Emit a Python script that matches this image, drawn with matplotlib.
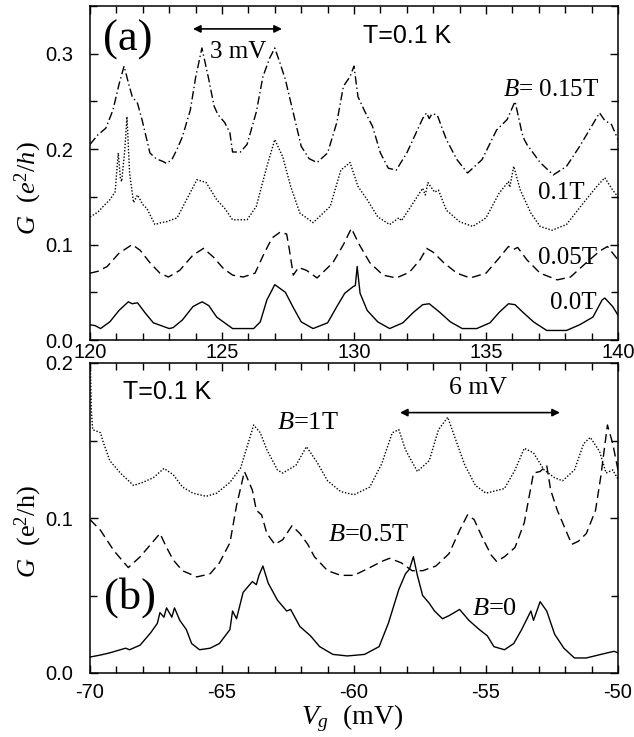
import matplotlib
matplotlib.use("Agg")
import matplotlib.pyplot as plt
from matplotlib.ticker import MultipleLocator, FormatStrFormatter

plt.rcParams['axes.unicode_minus'] = False
plt.rcParams['mathtext.fontset'] = 'custom'
plt.rcParams['mathtext.rm'] = 'Liberation Serif'
plt.rcParams['mathtext.it'] = 'Liberation Serif:italic'
plt.rcParams['mathtext.bf'] = 'Liberation Serif:bold'

SANS = 'Liberation Sans'
SERIF = 'Liberation Serif'

# ---------------- panel (a): T = 0.1 K, Vg = 120..140 mV ----------------
vg_a_015 = [120.0, 120.3, 120.6, 120.87, 121.1, 121.29, 121.45, 121.6, 121.8, 121.97, 122.27, 122.5,
            122.77, 122.9, 123.1, 123.3, 123.5, 123.8, 124.0, 124.24, 124.5, 124.7, 124.85, 125.1,
            125.3, 125.4, 125.7, 125.95, 126.3, 126.55, 126.8, 127.0, 127.2, 127.4, 127.7, 128.0,
            128.3, 128.6, 129.0, 129.35, 129.6, 129.85, 130.0, 130.15, 130.4, 130.7, 131.0, 131.3,
            131.6, 132.0, 132.4, 132.6, 132.75, 132.85, 132.95, 133.15, 133.5, 133.9, 134.3, 134.85,
            135.4, 135.8, 136.1, 136.3, 136.36, 136.45, 136.55, 137.05, 137.55, 138.05, 138.55, 139.0,
            139.3, 139.5, 139.75, 140.0]
g_a_015 = [0.205, 0.215, 0.222, 0.241, 0.268, 0.287, 0.270, 0.255, 0.248, 0.231, 0.196, 0.190,
           0.187, 0.185, 0.189, 0.200, 0.213, 0.241, 0.275, 0.306, 0.273, 0.245, 0.236, 0.228,
           0.217, 0.197, 0.197, 0.205, 0.239, 0.276, 0.295, 0.306, 0.290, 0.273, 0.238, 0.203,
           0.190, 0.186, 0.196, 0.228, 0.266, 0.276, 0.287, 0.255, 0.240, 0.224, 0.196, 0.180,
           0.178, 0.196, 0.220, 0.232, 0.238, 0.232, 0.237, 0.236, 0.210, 0.189, 0.175, 0.189,
           0.220, 0.231, 0.250, 0.225, 0.217, 0.210, 0.205, 0.186, 0.173, 0.182, 0.203, 0.224,
           0.238, 0.230, 0.226, 0.210]

vg_a_010 = [120.0, 120.3, 120.5, 120.75, 120.95, 121.07, 121.15, 121.2, 121.32, 121.4, 121.5, 121.65,
            121.8, 122.0, 122.15, 122.46, 122.7, 122.9, 123.3, 123.6, 124.05, 124.4, 124.8, 125.1,
            125.4, 125.95, 126.3, 126.7, 127.0, 127.3, 127.6, 127.95, 128.45, 129.1, 129.5, 129.85,
            130.15, 130.5, 130.9, 131.35, 131.7, 131.8, 132.25, 132.6, 132.7, 132.8, 133.05, 133.2,
            133.5, 134.0, 134.5, 135.0, 135.5, 135.85, 135.9, 136.05, 136.3, 136.7, 137.05, 137.5,
            138.05, 138.7, 139.2, 139.5, 139.8, 140.0]
g_a_010 = [0.129, 0.134, 0.140, 0.147, 0.155, 0.196, 0.170, 0.166, 0.200, 0.234, 0.175, 0.144,
           0.152, 0.142, 0.138, 0.121, 0.123, 0.124, 0.128, 0.144, 0.168, 0.165, 0.147, 0.138,
           0.126, 0.126, 0.140, 0.182, 0.210, 0.192, 0.161, 0.133, 0.123, 0.140, 0.178, 0.186,
           0.161, 0.147, 0.129, 0.121, 0.128, 0.125, 0.144, 0.159, 0.152, 0.165, 0.155, 0.157,
           0.136, 0.124, 0.119, 0.128, 0.154, 0.166, 0.160, 0.182, 0.157, 0.133, 0.119, 0.115,
           0.121, 0.144, 0.161, 0.170, 0.157, 0.150]

vg_a_005 = [120.0, 120.3, 120.65, 121.1, 121.6, 121.9, 122.27, 122.65, 122.97, 123.4, 123.9, 124.3,
            124.67, 125.05, 125.4, 125.8, 126.25, 126.6, 126.9, 127.2, 127.45, 127.55, 127.7, 127.9,
            128.2, 128.6, 129.2, 129.6, 129.9, 130.2, 130.6, 131.1, 131.6, 132.1, 132.5, 132.75,
            133.0, 133.4, 133.9, 134.4, 135.0, 135.5, 135.85, 136.05, 136.2, 136.55, 137.05, 137.7,
            138.2, 138.8, 139.3, 139.6, 140.0]
g_a_005 = [0.070, 0.072, 0.077, 0.091, 0.100, 0.094, 0.081, 0.070, 0.066, 0.073, 0.089, 0.096,
           0.087, 0.075, 0.068, 0.066, 0.070, 0.091, 0.107, 0.113, 0.111, 0.095, 0.068, 0.076,
           0.073, 0.065, 0.081, 0.100, 0.117, 0.100, 0.081, 0.068, 0.065, 0.071, 0.084, 0.096,
           0.092, 0.081, 0.070, 0.065, 0.070, 0.086, 0.098, 0.095, 0.097, 0.084, 0.070, 0.063,
           0.066, 0.081, 0.093, 0.098, 0.084]

vg_a_000 = [120.0, 120.2, 120.4, 120.75, 121.1, 121.45, 121.6, 121.8, 122.1, 122.4, 122.8, 123.0,
            123.15, 123.5, 123.9, 124.1, 124.25, 124.5, 124.8, 125.2, 125.4, 126.2, 126.45, 126.7,
            127.0, 127.4, 127.7, 128.0, 128.45, 129.0, 129.35, 129.65, 129.97, 130.05, 130.12, 130.23,
            130.5, 130.9, 131.35, 131.85, 132.25, 132.6, 132.85, 133.25, 133.65, 134.1, 134.65, 135.15,
            135.5, 135.85, 136.1, 136.4, 136.8, 137.3, 138.05, 138.55, 139.05, 139.4, 139.5, 139.8,
            140.0]
g_a_000 = [0.016, 0.015, 0.012, 0.019, 0.031, 0.040, 0.038, 0.039, 0.028, 0.018, 0.014, 0.012,
           0.013, 0.021, 0.035, 0.038, 0.040, 0.036, 0.024, 0.016, 0.012, 0.012, 0.019, 0.042,
           0.058, 0.050, 0.034, 0.019, 0.012, 0.018, 0.035, 0.049, 0.056, 0.057, 0.077, 0.049,
           0.031, 0.019, 0.012, 0.018, 0.029, 0.037, 0.038, 0.029, 0.019, 0.012, 0.012, 0.018,
           0.029, 0.038, 0.037, 0.029, 0.019, 0.010, 0.010, 0.016, 0.024, 0.042, 0.044, 0.035,
           0.026]

# ---------------- panel (b): T = 0.1 K, Vg = -70..-50 mV ----------------
vg_b_1 = [-70.0, -69.95, -69.9, -69.6, -69.5, -69.25, -68.85, -68.35, -68.0, -67.6, -67.2, -66.85,
          -66.5, -66.1, -65.6, -65.2, -64.7, -64.3, -64.05, -63.8, -63.55, -63.3, -62.9, -62.7,
          -62.2, -61.8, -61.4, -61.0, -60.5, -60.0, -59.4, -58.95, -58.55, -58.3, -58.05, -57.6,
          -57.15, -56.8, -56.45, -56.2, -55.8, -55.4, -55.0, -54.3, -53.9, -53.55, -53.2, -52.8,
          -52.4, -52.1, -51.65, -51.3, -51.05, -50.7, -50.45, -50.2, -50.0]
g_b_1 = [0.210, 0.170, 0.157, 0.155, 0.149, 0.137, 0.129, 0.121, 0.123, 0.126, 0.132, 0.128,
         0.120, 0.116, 0.114, 0.116, 0.123, 0.132, 0.146, 0.160, 0.155, 0.144, 0.131, 0.129,
         0.134, 0.146, 0.136, 0.124, 0.117, 0.115, 0.120, 0.135, 0.155, 0.157, 0.144, 0.130,
         0.137, 0.157, 0.165, 0.153, 0.134, 0.121, 0.116, 0.119, 0.131, 0.145, 0.142, 0.131,
         0.126, 0.124, 0.131, 0.148, 0.152, 0.143, 0.129, 0.131, 0.125]

vg_b_05 = [-70.0, -69.6, -69.1, -68.55, -68.1, -67.65, -67.35, -67.1, -66.85, -66.5, -65.95, -65.45,
           -65.1, -64.7, -64.45, -64.15, -63.85, -63.7, -63.5, -63.3, -63.0, -62.7, -62.35, -62.05,
           -61.75, -61.5, -61.0, -60.5, -60.0, -59.4, -58.95, -58.65, -58.2, -57.8, -57.4, -56.9,
           -56.4, -56.0, -55.7, -55.45, -55.1, -54.8, -54.6, -54.3, -53.9, -53.55, -53.2, -52.95,
           -52.7, -52.55, -52.3, -52.05, -51.75, -51.5, -51.2, -50.85, -50.65, -50.4, -50.2, -50.0]
g_b_05 = [0.099, 0.092, 0.079, 0.068, 0.075, 0.084, 0.090, 0.081, 0.073, 0.066, 0.062, 0.064,
          0.071, 0.084, 0.108, 0.130, 0.118, 0.105, 0.102, 0.090, 0.083, 0.086, 0.095, 0.090,
          0.083, 0.075, 0.066, 0.063, 0.063, 0.068, 0.072, 0.074, 0.071, 0.066, 0.066, 0.069,
          0.077, 0.092, 0.102, 0.099, 0.086, 0.076, 0.072, 0.075, 0.081, 0.097, 0.129, 0.130,
          0.134, 0.118, 0.105, 0.095, 0.083, 0.085, 0.090, 0.105, 0.127, 0.160, 0.148, 0.131]

vg_b_0 = [-70.0, -69.6, -69.25, -68.85, -68.65, -68.5, -68.1, -67.7, -67.45, -67.35, -67.2, -67.1,
          -66.9, -66.8, -66.6, -66.35, -66.15, -65.85, -65.45, -65.1, -64.7, -64.6, -64.45, -64.2,
          -63.85, -63.7, -63.6, -63.45, -63.25, -62.9, -62.55, -62.4, -62.05, -61.65, -61.3, -60.8,
          -60.25, -59.6, -59.05, -58.7, -58.3, -58.05, -57.9, -57.75, -57.6, -57.4, -57.15, -56.95,
          -56.65, -56.4, -56.0, -55.65, -55.25, -54.95, -54.7, -54.3, -53.95, -53.65, -53.3, -53.2,
          -52.95, -52.7, -52.4, -52.05, -51.65, -51.2, -50.65, -50.15, -50.0]
g_b_0 = [0.0103, 0.0116, 0.013, 0.015, 0.016, 0.015, 0.018, 0.026, 0.032, 0.039, 0.036, 0.042,
         0.036, 0.042, 0.034, 0.028, 0.019, 0.015, 0.016, 0.019, 0.028, 0.040, 0.035, 0.052,
         0.059, 0.057, 0.063, 0.069, 0.058, 0.047, 0.040, 0.041, 0.030, 0.024, 0.017, 0.012,
         0.011, 0.012, 0.017, 0.032, 0.054, 0.064, 0.067, 0.075, 0.063, 0.050, 0.045, 0.040,
         0.035, 0.037, 0.041, 0.034, 0.028, 0.024, 0.017, 0.015, 0.019, 0.028, 0.040, 0.034,
         0.046, 0.040, 0.025, 0.016, 0.0097, 0.0097, 0.012, 0.014, 0.013]

LW = 1.0
DASHDOT = (0, (6, 2.2, 1, 2.2))
DOTTED = (0, (1, 1.3))
DASHED = (0, (6.5, 3.5))

fig = plt.figure(figsize=(6.34, 7.37), dpi=100)
W, H = 634.0, 737.0
ax1 = fig.add_axes([90 / W, (H - 340) / H, 528 / W, 334 / H])
ax2 = fig.add_axes([90 / W, (H - 673) / H, 528 / W, 310 / H])

ax1.plot(vg_a_015, g_a_015, color='black', lw=LW, linestyle=DASHDOT)
ax1.plot(vg_a_010, g_a_010, color='black', lw=LW, linestyle=DOTTED)
ax1.plot(vg_a_005, g_a_005, color='black', lw=LW, linestyle=DASHED)
ax1.plot(vg_a_000, g_a_000, color='black', lw=LW, linestyle='-')

ax2.plot(vg_b_1, g_b_1, color='black', lw=LW, linestyle=DOTTED)
ax2.plot(vg_b_05, g_b_05, color='black', lw=LW, linestyle=DASHED)
ax2.plot(vg_b_0, g_b_0, color='black', lw=LW, linestyle='-')

ax1.set_xlim(120, 140)
ax1.set_ylim(0, 0.35)
ax2.set_xlim(-70, -50)
ax2.set_ylim(0, 0.2)

for ax in (ax1, ax2):
    ax.xaxis.set_major_locator(MultipleLocator(5))
    ax.xaxis.set_minor_locator(MultipleLocator(1))
    ax.yaxis.set_major_locator(MultipleLocator(0.1))
    ax.yaxis.set_minor_locator(MultipleLocator(0.05))
    ax.yaxis.set_major_formatter(FormatStrFormatter('%.1f'))
    ax.tick_params(which='both', direction='in', top=True, right=True, width=1.0)
    ax.tick_params(which='major', length=6)
    ax.tick_params(which='minor', length=5)
    ax.tick_params(axis='y', which='major', pad=12, labelsize=14.5)
    for sp in ax.spines.values():
        sp.set_linewidth(1.1)

ax1.tick_params(axis='x', which='major', pad=2, labelsize=14.5)
ax2.tick_params(axis='x', which='major', pad=7, labelsize=14.5)
for ax in (ax1, ax2):
    for lab in ax.get_xticklabels() + ax.get_yticklabels():
        lab.set_fontfamily(SANS)

# panel (a) annotations
ax1.text(121.44, 0.315, '(a)', family=SERIF, fontsize=32, ha='center', va='center')
ax1.annotate('', xy=(127.27, 0.326), xytext=(123.9, 0.326),
             arrowprops=dict(arrowstyle='<|-|>', color='black', lw=1.2,
                             mutation_scale=11, shrinkA=0, shrinkB=0))
ax1.text(124.55, 0.302, '3 mV', family=SERIF, fontsize=18, ha='left', va='center')
ax1.text(130.34, 0.319, 'T=0.1 K', family=SANS, fontsize=18, ha='left', va='center')
ax1.text(135.64, 0.262, r'$B$= 0.15T', family=SERIF, fontsize=18, ha='left', va='center')
ax1.text(136.97, 0.154, '0.1T', family=SERIF, fontsize=18, ha='left', va='center')
ax1.text(136.97, 0.086, '0.05T', family=SERIF, fontsize=18, ha='left', va='center')
ax1.text(137.42, 0.039, '0.0T', family=SERIF, fontsize=18, ha='left', va='center')

# panel (b) annotations
ax2.text(-68.75, 0.181, 'T=0.1 K', family=SANS, fontsize=18, ha='left', va='center')
ax2.text(-62.92, 0.161, r'$B$=1T', family=SERIF, fontsize=19, ha='left', va='center')
ax2.text(-60.98, 0.089, r'$B$=0.5T', family=SERIF, fontsize=19, ha='left', va='center')
ax2.text(-55.53, 0.041, r'$B$=0', family=SERIF, fontsize=19, ha='left', va='center')
ax2.text(-68.48, 0.049, '(b)', family=SERIF, fontsize=32, ha='center', va='center')
ax2.annotate('', xy=(-52.2, 0.168), xytext=(-58.26, 0.168),
             arrowprops=dict(arrowstyle='<|-|>', color='black', lw=1.2,
                             mutation_scale=11, shrinkA=0, shrinkB=0))
ax2.text(-55.3, 0.184, '6 mV', family=SERIF, fontsize=18.5, ha='center', va='center')

# axis labels
fig.text(28 / W, 1 - 188 / H, r'$G$  ($e^2/h$)', family=SERIF, fontsize=19,
         rotation=90, ha='center', va='center')
fig.text(28 / W, 1 - 532 / H, r'$G$  (e$^2$/h)', family=SERIF, fontsize=19,
         rotation=90, ha='center', va='center')
fig.text(352 / W, 1 - 718 / H, r'$V_g$  (mV)', family=SERIF, fontsize=20,
         ha='center', va='center')

fig.savefig('out.png', dpi=100)
